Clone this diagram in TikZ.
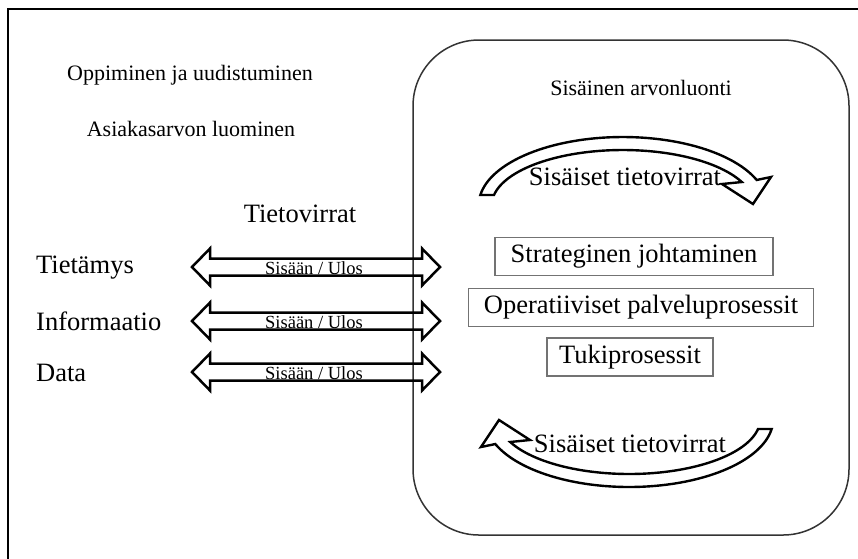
\documentclass[tikz,border=0pt]{standalone}
\usepackage{fontspec}
\setmainfont{Liberation Serif}
\begin{document}
\begin{tikzpicture}[x=1pt,y=-1pt,
  toplbl/.style={inner sep=0pt, font=\fontsize{22}{26}\selectfont},
  lbl/.style={inner sep=0pt, font=\fontsize{26.5}{30}\selectfont},
  flowtext/.style={inner sep=0pt, font=\fontsize{18.5}{20}\selectfont},
  procbox/.style={draw=black!55, line width=1.3pt, minimum height=38pt,
    inner sep=0pt, font=\fontsize{26.5}{30}\selectfont},
  flowarrow/.style={draw=black, line width=2.5pt, line join=miter},
  bendarrow/.style={draw=black, fill=white, line width=2.4pt, line join=miter},
  container/.style={draw=black!80, line width=1.5pt, rounded corners=66pt,
    minimum width=436pt, minimum height=495pt, inner sep=0pt}]

\useasboundingbox (0,0) rectangle (858,558);
\clip (0,0) rectangle (858,558);

% outer frame (runs off the right and bottom edges)
\draw[line width=2pt] (8,600) -- (8,9) -- (900,9);

% internal value creation container
\node[container] (core) at (631,287.5) {};

% left-hand labels
\node[toplbl] (learn) at (190,75) {Oppiminen ja uudistuminen};
\node[toplbl] (custval) at (191,129) {Asiakasarvon luominen};
\node[lbl] (flows) at (300,214) {Tietovirrat};
\node[lbl, anchor=west] (know) at (36,268) {Tietämys};
\node[lbl, anchor=west] (info) at (36,321) {Informaatio};
\node[lbl, anchor=west] (data) at (36,373) {Data};

% two-way block arrows across the boundary
\foreach \yy/\nm in {267/know, 321/info, 372/data}{
  \path[flowarrow] (192,\yy) -- (210,\yy-18.5) -- (210,\yy-8.5) -- (422,\yy-8.5)
    -- (422,\yy-18.5) -- (440,\yy) -- (422,\yy+18.5) -- (422,\yy+8.5)
    -- (210,\yy+8.5) -- (210,\yy+18.5) -- cycle;
  \node[flowtext] (io\nm) at (314,\yy+1) {Sisään / Ulos};
}

% container title
\node[toplbl] (coretitle) at (641,88) {Sisäinen arvonluonti};

% curved block arrows: one over the top, the same one turned half a turn below
\draw[bendarrow] plot[domain=188.45:338.4, samples=60] ({622.8+144*cos(\x)},{205+68*sin(\x)})
  -- (771,177) -- (753,204) -- (722,184)
  -- plot[domain=335.3:190.5, samples=60] ({622.8+131*cos(\x)},{205+55*sin(\x)}) -- cycle;
\begin{scope}[rotate around={180:(626,312)}]
\draw[bendarrow] plot[domain=188.45:338.4, samples=60] ({622.8+144*cos(\x)},{205+68*sin(\x)})
  -- (771,177) -- (753,204) -- (722,184)
  -- plot[domain=335.3:190.5, samples=60] ({622.8+131*cos(\x)},{205+55*sin(\x)}) -- cycle;
\end{scope}
\node[lbl] (upflow) at (625,177) {Sisäiset tietovirrat};
\node[lbl] (downflow) at (630,444) {Sisäiset tietovirrat};

% process boxes
\node[procbox, minimum width=278pt] (strat) at (634,256.5) {Strateginen johtaminen};
\node[procbox, minimum width=345pt] (oper) at (641,307.5) {Operatiiviset palveluprosessit};
\node[procbox, minimum width=166pt] (support) at (630,357) {Tukiprosessit};

\end{tikzpicture}
\end{document}
